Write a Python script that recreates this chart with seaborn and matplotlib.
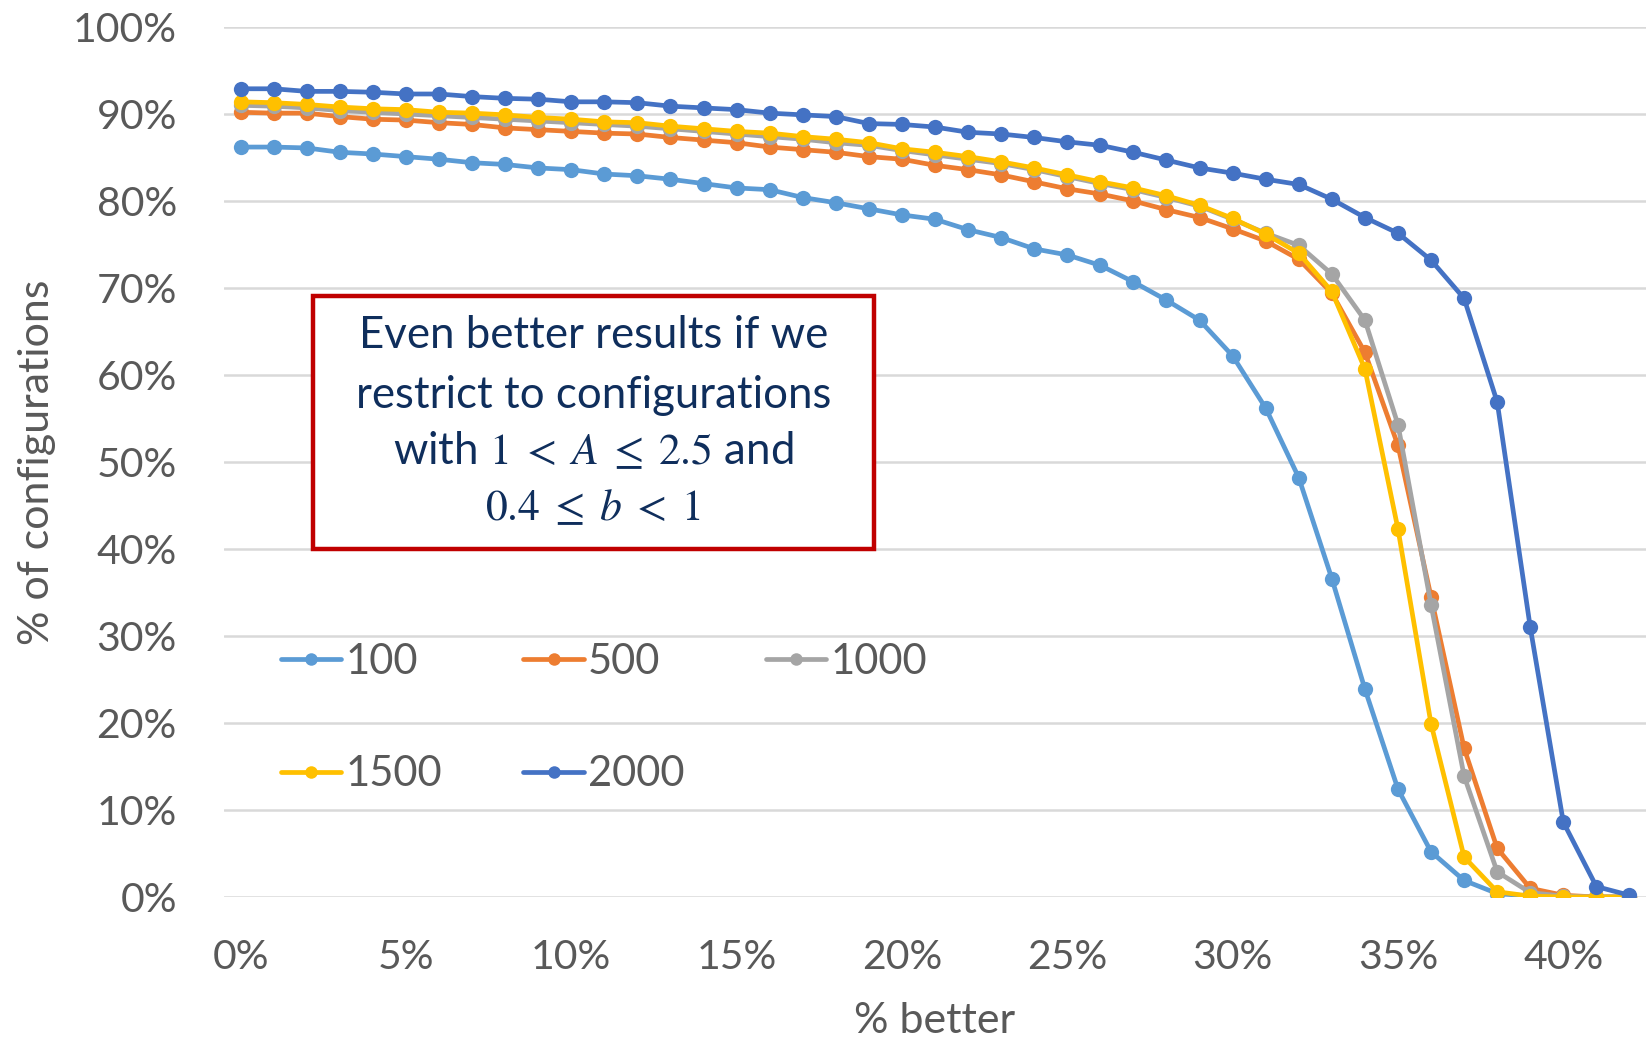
import numpy as np
import pandas as pd
import matplotlib
matplotlib.use("Agg")
import matplotlib.pyplot as plt
from matplotlib.patches import Rectangle
import seaborn as sns

# ---------------- data ----------------
better_pct = list(range(0, 43))  # % better, 0..42

s100 = [86.2, 86.2, 86.1, 85.6, 85.4, 85.1, 84.8, 84.4, 84.2, 83.8,
        83.6, 83.1, 82.9, 82.5, 82.0, 81.5, 81.3, 80.4, 79.8, 79.1,
        78.4, 77.9, 76.7, 75.8, 74.5, 73.8, 72.6, 70.7, 68.6, 66.3,
        62.2, 56.2, 48.2, 36.6, 23.9, 12.4, 5.2, 1.9, 0.4, 0.1,
        0.0, 0.0, 0.0]
s500 = [90.2, 90.1, 90.1, 89.7, 89.4, 89.3, 89.0, 88.8, 88.4, 88.2,
        88.0, 87.8, 87.7, 87.3, 87.0, 86.7, 86.2, 85.9, 85.6, 85.1,
        84.8, 84.1, 83.6, 83.0, 82.2, 81.4, 80.8, 80.0, 79.0, 78.1,
        76.8, 75.4, 73.3, 69.4, 62.6, 51.9, 34.5, 17.1, 5.6, 1.0,
        0.2, 0.0, 0.0]
s1000 = [91.0, 90.9, 90.7, 90.4, 90.2, 90.0, 89.8, 89.6, 89.4, 89.2,
         89.0, 88.8, 88.6, 88.3, 88.0, 87.7, 87.4, 87.1, 86.7, 86.4,
         85.8, 85.3, 84.8, 84.3, 83.6, 82.8, 82.0, 81.3, 80.4, 79.4,
         77.9, 76.3, 74.9, 71.6, 66.3, 54.3, 33.6, 13.9, 2.9, 0.5,
         0.1, 0.0, 0.0]
s1500 = [91.4, 91.3, 91.1, 90.8, 90.6, 90.5, 90.2, 90.1, 89.9, 89.6,
         89.4, 89.1, 89.0, 88.6, 88.3, 88.0, 87.8, 87.4, 87.1, 86.7,
         86.0, 85.6, 85.1, 84.5, 83.8, 83.0, 82.2, 81.5, 80.6, 79.5,
         78.0, 76.2, 74.0, 69.6, 60.7, 42.3, 19.9, 4.6, 0.6, 0.1,
         0.0, 0.0, 0.0]
s2000 = [92.9, 92.9, 92.6, 92.6, 92.5, 92.3, 92.3, 92.0, 91.8, 91.7,
         91.4, 91.4, 91.3, 90.9, 90.7, 90.5, 90.1, 89.9, 89.7, 88.9,
         88.8, 88.5, 87.9, 87.7, 87.3, 86.8, 86.4, 85.6, 84.7, 83.8,
         83.2, 82.5, 81.9, 80.2, 78.1, 76.3, 73.2, 68.8, 56.9, 31.0,
         8.6, 1.2, 0.2]

series_names = ["100", "500", "1000", "1500", "2000"]
series_values = [s100, s500, s1000, s1500, s2000]
series_colors = ["#5B9BD5", "#ED7D31", "#A5A5A5", "#FFC000", "#4472C4"]

x_ticks = [0, 5, 10, 15, 20, 25, 30, 35, 40]
x_tick_labels = ["0%", "5%", "10%", "15%", "20%", "25%", "30%", "35%", "40%"]
y_ticks = [0, 10, 20, 30, 40, 50, 60, 70, 80, 90, 100]
y_tick_labels = [f"{v}%" for v in y_ticks]

box_lines = ["Even better results if we",
             "restrict to configurations",
             r"with $1\;<\;A\;\leq\;2.5$ and",
             r"$0.4\;\leq\;b\;<\;1$"]

# ---------------- long-form table ----------------
rows = []
for name, vals in zip(series_names, series_values):
    for x, v in zip(better_pct, vals):
        rows.append({"better": x, "pct": v, "series": name})
df = pd.DataFrame(rows)

# ---------------- style ----------------
sns.set_theme(style="white")
plt.rcParams["font.family"] = ["Lato", "DejaVu Sans"]
plt.rcParams["mathtext.fontset"] = "stix"

TEXT = "#595959"
FS_TICK = 29.5
FS_LABEL = 31
FS_LEG = 30
FS_BOX = 31.5

fig = plt.figure(figsize=(16.46, 10.42), dpi=100)
ax = fig.add_axes([224 / 1646, 1 - 897 / 1042, 1422 / 1646, 870 / 1042])

sns.lineplot(data=df, x="better", y="pct", hue="series",
             hue_order=series_names, palette=series_colors,
             marker="o", markersize=11, markeredgewidth=0,
             linewidth=3.4, ax=ax, legend=True, zorder=3)

ax.set_xlim(-0.5, 42.5)
ax.set_ylim(0, 100)
ax.set_xticks(x_ticks)
ax.set_xticklabels(x_tick_labels)
ax.set_yticks(y_ticks)
ax.set_yticklabels(y_tick_labels)
ax.tick_params(axis="both", length=0, labelsize=FS_TICK, labelcolor=TEXT)
ax.tick_params(axis="y", pad=34)
ax.tick_params(axis="x", pad=30)

ax.grid(axis="y", color="#D9D9D9", linewidth=1.8, zorder=0)
ax.grid(axis="x", visible=False)
for sp in ax.spines.values():
    sp.set_visible(False)

ax.set_xlabel("% better", fontsize=FS_LABEL, color=TEXT)
ax.set_ylabel("% of configurations", fontsize=FS_LABEL, color=TEXT)
ax.xaxis.label.set_va("center")
ax.yaxis.label.set_va("center")
ax.xaxis.set_label_coords(0.5, -0.1425)
ax.yaxis.set_label_coords(-0.1315, 0.5)

# legend (row-major order: 100 500 1000 / 1500 2000)
handles, labels = ax.get_legend_handles_labels()
hmap = dict(zip(labels, handles))
order = ["100", "1500", "500", "2000", "1000"]
leg = ax.legend([hmap[k] for k in order], order, ncol=3, loc="upper left",
                bbox_to_anchor=(0.04, 0.292), frameon=False,
                fontsize=FS_LEG, labelcolor=TEXT, handlelength=1.45,
                handletextpad=0.1, columnspacing=1.95, labelspacing=1.78,
                borderpad=0, borderaxespad=0, numpoints=1)
for h in leg.legend_handles:
    h.set_markersize(9)
    h.set_linewidth(3.4)

# annotation box
rect = Rectangle(((313 - 224) / 1422, (897 - 549) / 870),
                 (874 - 313) / 1422, (549 - 296) / 870,
                 transform=ax.transAxes, fill=True, facecolor="white",
                 edgecolor="#C00000", linewidth=3.2, zorder=5)
ax.add_patch(rect)
cx = ((313 + 874) / 2 - 224) / 1422
line_y = [336, 395, 451, 508]
for txt, yy in zip(box_lines, line_y):
    ax.text(cx, (897 - yy) / 870, txt, transform=ax.transAxes,
            ha="center", va="center", fontsize=FS_BOX, color="#0F2E5C",
            zorder=6)

fig.savefig("out.png", dpi=100)
